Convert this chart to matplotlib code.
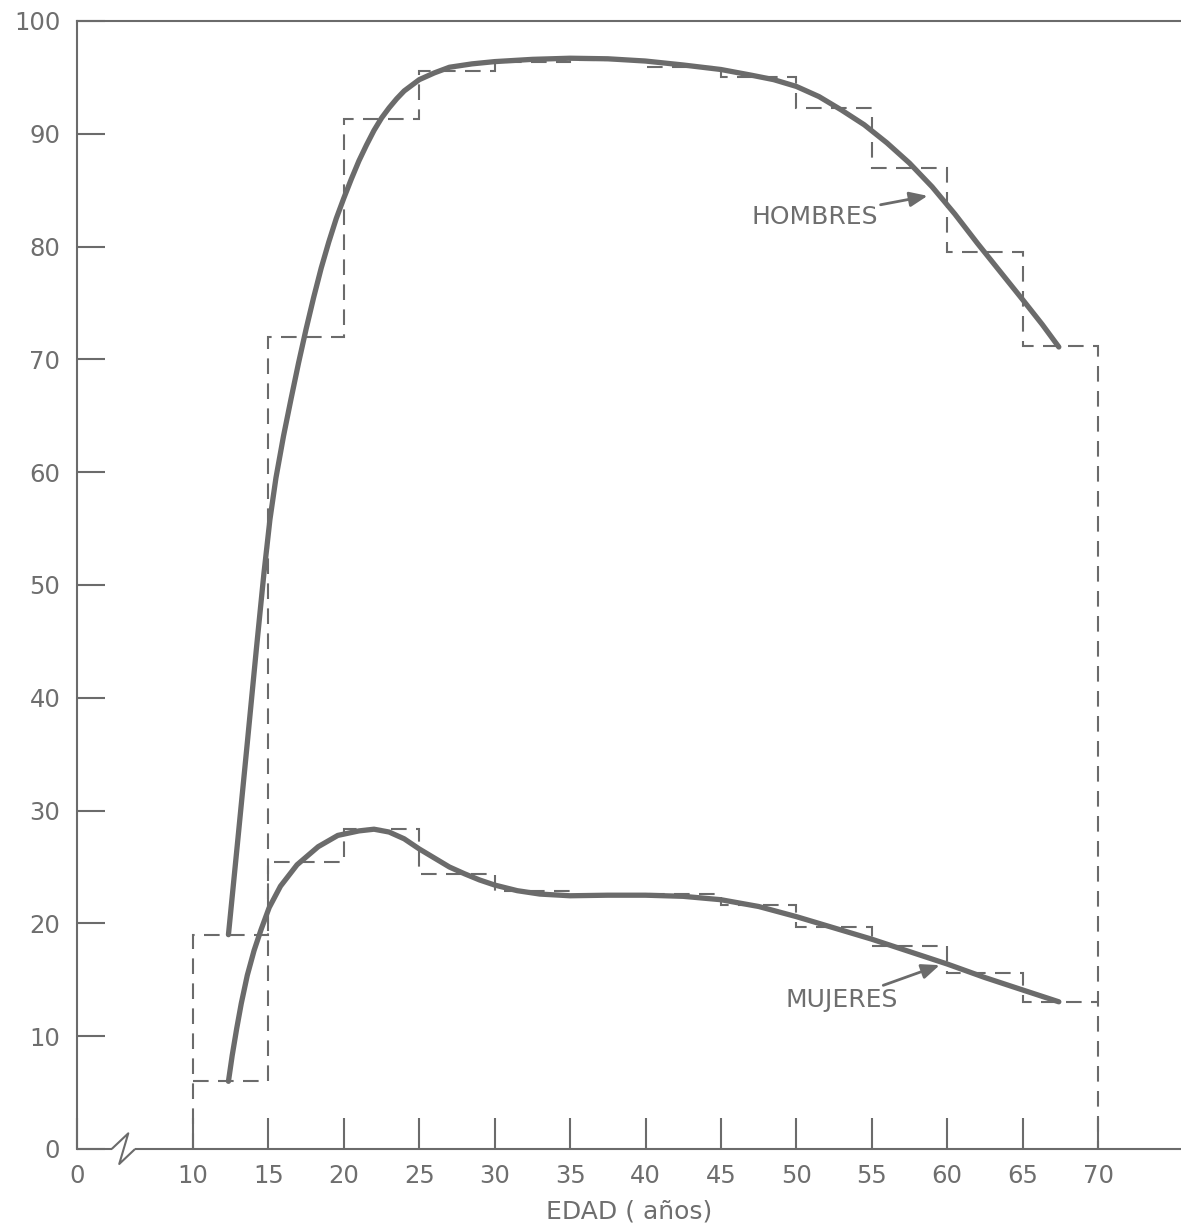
import matplotlib
matplotlib.use("Agg")
import matplotlib.pyplot as plt

INK = "#6b6b6b"
TEXT = "#6e6e6e"

# Histogram bins (age groups) and step values
bin_edges = [10, 15, 20, 25, 30, 35, 40, 45, 50, 55, 60, 65, 70]
hombres_steps = [19.0, 72.0, 91.3, 95.6, 96.4, 96.5, 95.9, 95.0, 92.3, 87.0, 79.5, 71.2]
mujeres_steps = [6.0, 25.4, 28.4, 24.4, 22.9, 22.5, 22.6, 21.6, 19.7, 18.0, 15.6, 13.0]

# Smoothed curves (hand fitted in the original)
hombres_x = [12.35, 13.0, 13.6, 14.2, 14.7, 15.1, 15.5, 16.0, 16.5, 17.0, 17.5, 18.0,
             18.5, 19.0, 19.5, 20.0, 20.5, 21.0, 21.5, 22.0, 22.5, 23.0, 23.5, 24.0,
             25.0, 26.0, 27.0, 28.5, 30.0, 32.5, 35.0, 37.5, 40.0, 42.5, 45.0, 47.0,
             48.5, 50.0, 51.5, 53.0, 54.5, 56.0, 57.5, 59.0, 60.5, 62.0, 63.5, 65.0,
             66.3, 67.4]
hombres_y = [19.0, 27.8, 36.0, 44.3, 51.0, 55.8, 59.5, 63.2, 66.5, 69.7, 72.7, 75.5,
             78.1, 80.4, 82.5, 84.3, 86.0, 87.6, 89.0, 90.3, 91.4, 92.3, 93.1, 93.8,
             94.8, 95.4, 95.9, 96.2, 96.4, 96.6, 96.7, 96.65, 96.45, 96.1, 95.7, 95.2,
             94.8, 94.2, 93.3, 92.1, 90.8, 89.2, 87.4, 85.3, 82.9, 80.3, 77.8, 75.3,
             73.1, 71.1]

mujeres_x = [12.35, 12.6, 12.9, 13.2, 13.6, 14.05, 14.5, 15.05, 15.8, 16.9, 18.3, 19.6,
             21.0, 22.0, 23.0, 24.0, 25.0, 26.0, 27.0, 28.0, 29.0, 30.0, 31.5, 33.0,
             35.0, 37.5, 40.0, 42.5, 45.0, 47.5, 50.0, 52.5, 55.0, 57.5, 60.0, 62.5,
             65.0, 67.4]
mujeres_y = [6.0, 8.3, 10.7, 12.9, 15.4, 17.6, 19.4, 21.4, 23.3, 25.2, 26.8, 27.8,
             28.2, 28.35, 28.1, 27.5, 26.6, 25.8, 25.0, 24.4, 23.85, 23.4, 22.9, 22.6,
             22.45, 22.5, 22.5, 22.4, 22.1, 21.5, 20.6, 19.6, 18.6, 17.5, 16.4, 15.2,
             14.1, 13.05]

x_ticks = [10, 15, 20, 25, 30, 35, 40, 45, 50, 55, 60, 65, 70]
y_ticks = [0, 10, 20, 30, 40, 50, 60, 70, 80, 90, 100]
X_ORIGIN = 2.31  # where the broken axis shows "0"

plt.rcParams["font.family"] = ["DejaVu Sans"]

W, H = 1181, 1226
fig = plt.figure(figsize=(W / 100, H / 100), dpi=100)
fig.patch.set_facecolor("white")
ax = fig.add_axes([77 / W, 1 - 1149 / H, 1 - 77 / W, (1149 - 21) / H])
ax.set_xlim(X_ORIGIN, 75.5)
ax.set_ylim(0, 100)

# dashed step outlines; only the upper one carries the outer edges down to 0
dash = dict(fill=False, color=INK, linewidth=1.5, linestyle=(0, (7.5, 4.5)))
ax.stairs(hombres_steps, bin_edges, baseline=0, **dash)
ax.stairs(mujeres_steps, bin_edges, baseline=None, **dash)

# smooth curves
for xs, ys in ((hombres_x, hombres_y), (mujeres_x, mujeres_y)):
    ax.plot(xs, ys, color=INK, linewidth=3.8, solid_capstyle="round",
            solid_joinstyle="round")

# spines
for side in ("right", "bottom"):
    ax.spines[side].set_visible(False)
for side in ("left", "top"):
    ax.spines[side].set_color(INK)
    ax.spines[side].set_linewidth(1.5)

# x axis with break
axis_kw = dict(color=INK, linewidth=1.5, clip_on=False, solid_capstyle="butt")
ax.plot([X_ORIGIN, 4.61], [0, 0], **axis_kw)
ax.plot([4.61, 5.71, 5.11, 6.16], [0, 1.39, -1.33, 0], **axis_kw)
ax.plot([6.16, 75.5], [0, 0], **axis_kw)

ax.set_xticks([X_ORIGIN] + x_ticks)
ax.set_xticklabels(["0"] + [str(t) for t in x_ticks])
ax.set_yticks(y_ticks)
ax.set_yticklabels([str(t) for t in y_ticks])
ax.tick_params(axis="x", direction="in", length=22, width=1.5, color=INK,
               labelsize=17.5, labelcolor=TEXT, pad=11)
ax.tick_params(axis="y", direction="in", length=20, width=1.5, color=INK,
               labelsize=17.5, labelcolor=TEXT, pad=12)

ax.set_xlabel("EDAD ( años)", fontsize=18, color=TEXT, labelpad=8)

arrow = dict(arrowstyle="-|>,head_length=0.6,head_width=0.25", color=INK, lw=2,
             shrinkA=0, shrinkB=0)
ax.annotate("HOMBRES", xy=(58.7, 84.5), xytext=(55.4, 82.6), fontsize=18,
            color=TEXT, ha="right", va="center", arrowprops=arrow)
ax.annotate("MUJERES", xy=(59.5, 16.3), xytext=(56.75, 13.2), fontsize=18,
            color=TEXT, ha="right", va="center", arrowprops=arrow)

fig.savefig("out.png", dpi=100, facecolor="white")
